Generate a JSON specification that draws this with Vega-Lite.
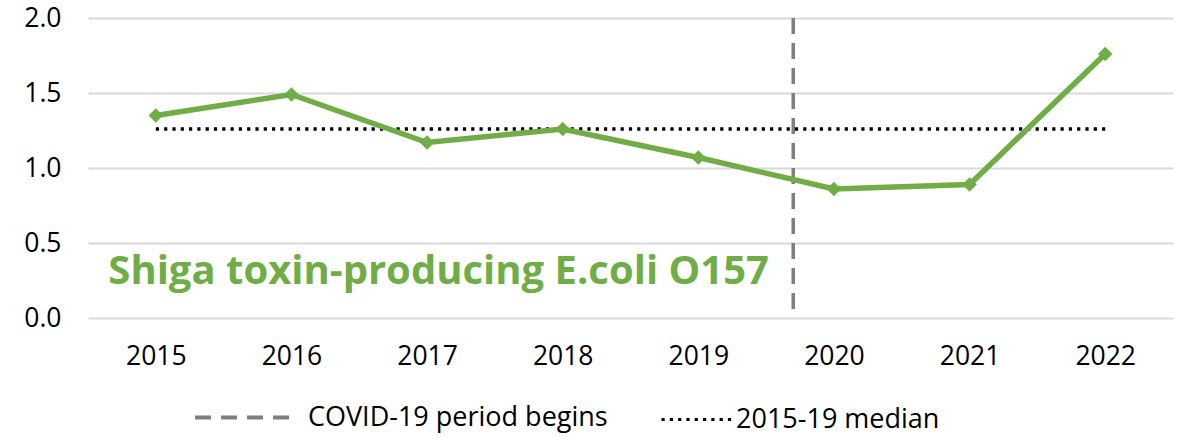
{
  "$schema": "https://vega.github.io/schema/vega-lite/v6.json",
  "width": 1085,
  "height": 300,
  "autosize": {"type": "none"},
  "padding": {"left": 88, "top": 18, "right": 6, "bottom": 120},
  "background": "white",
  "config": {
    "view": {"stroke": null},
    "font": "Open Sans",
    "axis": {"domain": false, "ticks": false, "labelFont": "Open Sans", "labelFontSize": 26.5, "labelColor": "#000000"},
    "axisY": {"gridColor": "#d9d9d9", "gridWidth": 2, "labelPadding": 27},
    "axisX": {"grid": false, "labelPadding": 25}
  },
  "datasets": {
    "series": [
      {"year": 2015, "rate": 1.35},
      {"year": 2016, "rate": 1.49},
      {"year": 2017, "rate": 1.17},
      {"year": 2018, "rate": 1.26},
      {"year": 2019, "rate": 1.07},
      {"year": 2020, "rate": 0.86},
      {"year": 2021, "rate": 0.89},
      {"year": 2022, "rate": 1.76}
    ],
    "median": [{"start": 2015, "end": 2022, "value": 1.26, "m": "2015-19 median"}],
    "covid": [{"year": 2019.7, "c": "COVID-19 period begins"}],
    "label": [{"name": "Shiga toxin-producing E.coli O157"}]
  },
  "layer": [
    {
      "data": {"name": "covid"},
      "mark": {"type": "rule", "strokeWidth": 3.5, "strokeDash": [16, 9]},
      "encoding": {
        "x": {"field": "year", "type": "quantitative", "scale": {"domain": [2014.5, 2022.5], "nice": false, "zero": false},
              "axis": {"values": [2015, 2016, 2017, 2018, 2019, 2020, 2021, 2022], "format": "d", "title": null}},
        "color": {"field": "c", "type": "nominal", "scale": {"range": ["#7f7f7f"]},
                  "legend": {"orient": "none", "legendX": 105, "legendY": 349, "title": null, "symbolType": "stroke", "symbolSize": 9400, "symbolStrokeWidth": 4, "symbolDash": [16, 10], "symbolStrokeColor": "#7f7f7f", "labelFontSize": 27, "labelFont": "Open Sans", "labelColor": "#000000", "labelOffset": 14, "labelLimit": 0}}
      }
    },
    {
      "data": {"name": "median"},
      "mark": {"type": "rule", "color": "#000000", "strokeWidth": 3.5},
      "encoding": {
        "x": {"field": "start", "type": "quantitative", "title": null},
        "x2": {"field": "end"},
        "y": {"field": "value", "type": "quantitative", "title": null},
        "strokeDash": {"field": "m", "type": "nominal", "scale": {"range": [[3.2, 5.1]]},
                       "legend": {"orient": "none", "legendX": 572, "legendY": 365, "title": null, "symbolType": "stroke", "symbolSize": 4900, "symbolStrokeWidth": 3, "symbolDash": [2.5, 4.5], "symbolStrokeColor": "#000000", "labelFontSize": 27, "labelFont": "Open Sans", "labelColor": "#000000", "labelOffset": 3, "labelLimit": 0}}
      }
    },
    {
      "data": {"name": "series"},
      "mark": {"type": "line", "color": "#70AD47", "strokeWidth": 5.5, "point": {"shape": "diamond", "size": 210, "filled": true, "color": "#70AD47"}},
      "encoding": {
        "x": {"field": "year", "type": "quantitative", "title": null},
        "y": {"field": "rate", "type": "quantitative", "scale": {"domain": [0, 2], "nice": false},
              "axis": {"values": [0, 0.5, 1, 1.5, 2], "format": ".1f", "title": null}}
      }
    },
    {
      "data": {"name": "label"},
      "mark": {"type": "text", "align": "left", "baseline": "middle", "fontSize": 40, "fontWeight": "bold", "color": "#70AD47", "font": "Open Sans"},
      "encoding": {
        "x": {"datum": 2014.65, "type": "quantitative"},
        "y": {"datum": 0.31, "type": "quantitative"},
        "text": {"field": "name", "type": "nominal"}
      }
    }
  ]
}
